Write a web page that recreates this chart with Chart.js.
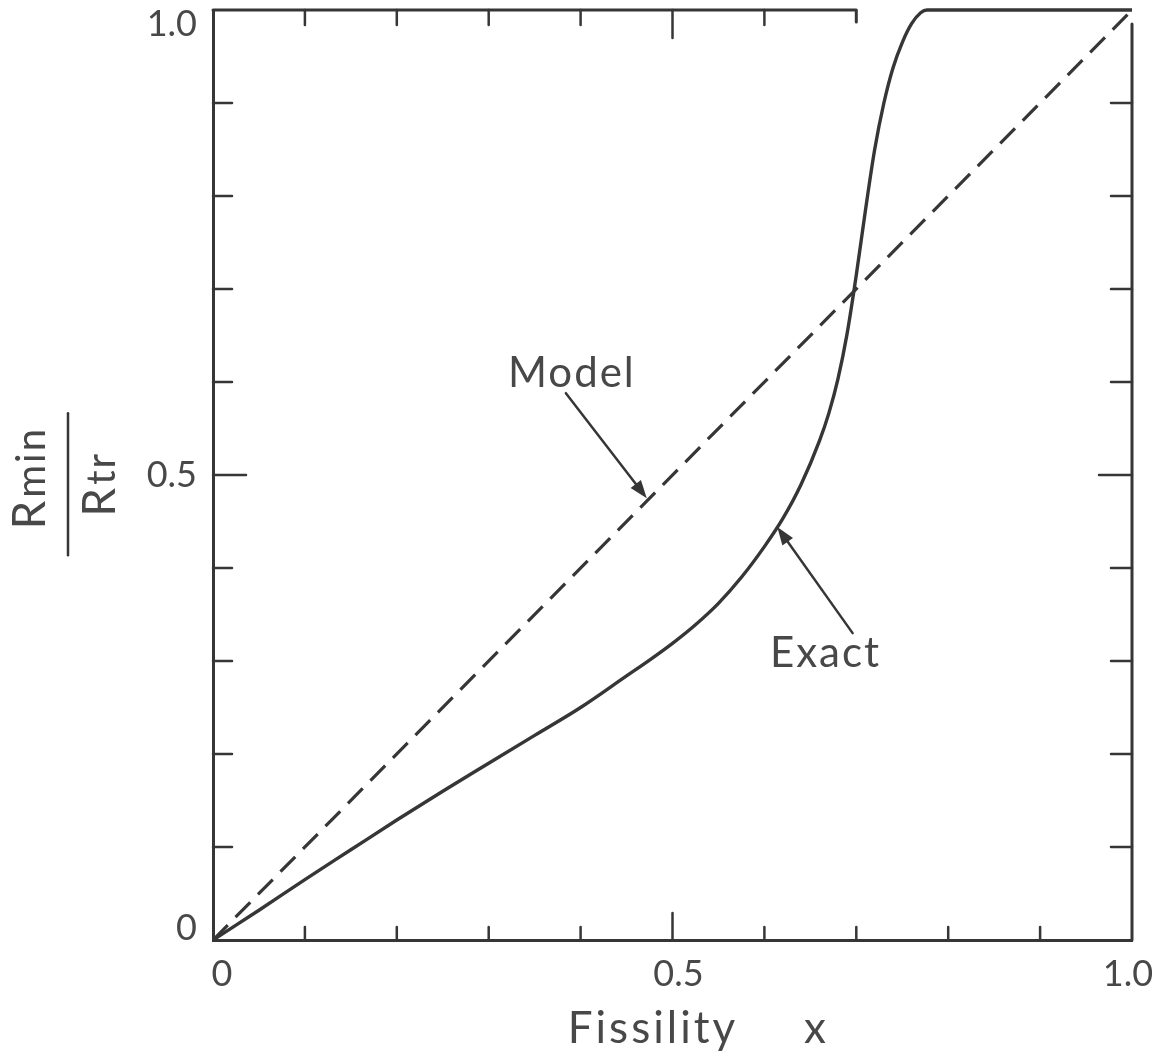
<!DOCTYPE html>
<html>
<head>
<meta charset="utf-8">
<script src="https://cdn.jsdelivr.net/npm/chart.js@4.4.1/dist/chart.umd.min.js"></script>
<style>
  html, body { margin: 0; padding: 0; background: #fff; }
  #wrap { width: 1159px; height: 1061px; }
</style>
</head>
<body>
<div id="wrap"><canvas id="fissilityChart" width="1159" height="1061"></canvas></div>
<script>
// --- DATA ---
const exactX = [0, 0.05, 0.1, 0.15, 0.2, 0.25, 0.3, 0.35, 0.4, 0.45, 0.475, 0.5, 0.525, 0.55, 0.575, 0.6, 0.62, 0.64, 0.66, 0.67, 0.68, 0.69, 0.7, 0.71, 0.72, 0.73, 0.74, 0.75, 0.76, 0.77, 0.777, 1.0];
const exactY = [0, 0.032, 0.065, 0.097, 0.129, 0.16, 0.19, 0.22, 0.25, 0.284, 0.301, 0.319, 0.339, 0.362, 0.39, 0.423, 0.453, 0.49, 0.537, 0.566, 0.603, 0.652, 0.715, 0.785, 0.85, 0.9, 0.938, 0.965, 0.985, 0.997, 1.0, 1.0];
const modelX = [0, 1];
const modelY = [0, 1];

const xTickValues = [0, 0.1, 0.2, 0.3, 0.4, 0.5, 0.6, 0.7, 0.8, 0.9, 1.0];
const yTickValues = [0, 0.1, 0.2, 0.3, 0.4, 0.5, 0.6, 0.7, 0.8, 0.9, 1.0];
const xLabelValues = [0, 0.5, 1.0];
const xLabelText = ['0', '0.5', '1.0'];
const yLabelValues = [0, 0.5, 1.0];
const yLabelText = ['0', '0.5', '1.0'];

// --- LOOK ---
const INK = '#363636';
const TEXT = '#484848';
const FONT = 'Lato, "Open Sans", "DejaVu Sans", sans-serif';
const TOP_FRAME_END = 0.7;     // top border stops here (hooked end)
const RIGHT_FRAME_TOP = 0.985; // right border starts just under the corner

// labels + arrows, in data units
const notes = [
    { text: 'Model', x: 0.321, y: 0.595, from: [0.384, 0.588], to: [0.472, 0.475] },
    { text: 'Exact', x: 0.606, y: 0.2935, from: [0.696, 0.330], to: [0.614, 0.444] }
];

const toPoints = (xs, ys) => xs.map((v, i) => ({ x: v, y: ys[i] }));

function arrow(ctx, x0, y0, x1, y1) {
    const ang = Math.atan2(y1 - y0, x1 - x0);
    const len = 18, half = 6.5;
    ctx.beginPath();
    ctx.moveTo(x0, y0);
    ctx.lineTo(x1 - Math.cos(ang) * len * 0.8, y1 - Math.sin(ang) * len * 0.8);
    ctx.stroke();
    ctx.beginPath();
    ctx.moveTo(x1, y1);
    ctx.lineTo(x1 - Math.cos(ang) * len - Math.sin(ang) * half, y1 - Math.sin(ang) * len + Math.cos(ang) * half);
    ctx.lineTo(x1 - Math.cos(ang) * len + Math.sin(ang) * half, y1 - Math.sin(ang) * len - Math.cos(ang) * half);
    ctx.closePath();
    ctx.fill();
}

// R with a smaller trailing "sub" on the same baseline
function rSub(ctx, sub, u, v) {
    ctx.font = '46px ' + FONT;
    ctx.fillText('R', u, v);
    const w = ctx.measureText('R').width + 1;
    ctx.font = '40px ' + FONT;
    ctx.fillText(sub, u + w, v);
}
function rSubWidth(ctx, sub) {
    ctx.font = '46px ' + FONT;
    const w = ctx.measureText('R').width + 1;
    ctx.font = '40px ' + FONT;
    return w + ctx.measureText(sub).width;
}

const framePlugin = {
    id: 'frameTicks',
    afterDraw(chart) {
        const { ctx, chartArea: a, scales: { x, y } } = chart;
        ctx.save();
        ctx.strokeStyle = INK;
        ctx.fillStyle = INK;
        ctx.lineWidth = 3;
        ctx.lineCap = 'round';
        ctx.lineJoin = 'round';

        // top border (partial) and right border
        const topEnd = x.getPixelForValue(TOP_FRAME_END);
        ctx.beginPath();
        ctx.moveTo(a.left, a.top);
        ctx.lineTo(topEnd, a.top);
        ctx.lineTo(topEnd, a.top + 12);
        ctx.stroke();
        ctx.beginPath();
        ctx.moveTo(a.right, y.getPixelForValue(RIGHT_FRAME_TOP));
        ctx.lineTo(a.right, a.bottom);
        ctx.stroke();

        // inward ticks
        ctx.lineWidth = 2.5;
        xTickValues.forEach(v => {
            if (v <= 0 || v >= 1) return;
            const px = x.getPixelForValue(v);
            const lb = v === 0.5 ? 27 : 13;
            ctx.beginPath(); ctx.moveTo(px, a.bottom); ctx.lineTo(px, a.bottom - lb); ctx.stroke();
            if (v < TOP_FRAME_END) {
                const lt = v === 0.5 ? 28 : 15;
                ctx.beginPath(); ctx.moveTo(px, a.top); ctx.lineTo(px, a.top + lt); ctx.stroke();
            }
        });
        yTickValues.forEach(v => {
            if (v <= 0 || v >= 1) return;
            const py = y.getPixelForValue(v);
            const ll = v === 0.5 ? 33 : 19;
            const lr = v === 0.5 ? 33 : 21;
            ctx.beginPath(); ctx.moveTo(a.left, py); ctx.lineTo(a.left + ll, py); ctx.stroke();
            ctx.beginPath(); ctx.moveTo(a.right, py); ctx.lineTo(a.right - lr, py); ctx.stroke();
        });

        // tick labels
        ctx.fillStyle = TEXT;
        ctx.font = '36px ' + FONT;
        ctx.textAlign = 'center';
        ctx.textBaseline = 'alphabetic';
        xLabelValues.forEach((v, i) => {
            const px = Math.min(Math.max(x.getPixelForValue(v) + 6, a.left + 9), a.right - 4);
            ctx.fillText(xLabelText[i], px, a.bottom + 46);
        });
        ctx.textAlign = 'right';
        ctx.textBaseline = 'middle';
        yLabelValues.forEach((v, i) => {
            const py = Math.min(Math.max(y.getPixelForValue(v), a.top + 14), a.bottom - 12);
            ctx.fillText(yLabelText[i], a.left - 16, py);
        });

        // axis title
        ctx.textAlign = 'left';
        ctx.textBaseline = 'alphabetic';
        ctx.font = '44px ' + FONT;
        ctx.letterSpacing = '3px';
        ctx.fillText('Fissility', x.getPixelForValue(0.386), a.bottom + 103);
        ctx.fillText('x', x.getPixelForValue(0.643), a.bottom + 103);

        // rotated fraction R_min / R_tr
        ctx.save();
        ctx.translate(68, y.getPixelForValue(0.49));
        ctx.rotate(-Math.PI / 2);
        ctx.strokeStyle = INK;
        ctx.lineWidth = 2.5;
        ctx.beginPath(); ctx.moveTo(-71, 0); ctx.lineTo(71, 0); ctx.stroke();
        ctx.fillStyle = TEXT;
        ctx.letterSpacing = '2px';
        const nw = rSubWidth(ctx, 'min');
        const dw = rSubWidth(ctx, 'tr');
        rSub(ctx, 'min', -nw / 2 + 6, -23);
        rSub(ctx, 'tr', -dw / 2, 47);
        ctx.restore();

        // annotations
        ctx.font = '42px ' + FONT;
        ctx.textAlign = 'left';
        ctx.strokeStyle = INK;
        ctx.lineWidth = 2.5;
        notes.forEach(n => {
            ctx.fillStyle = TEXT;
            ctx.letterSpacing = '2px';
            ctx.fillText(n.text, x.getPixelForValue(n.x), y.getPixelForValue(n.y));
            ctx.letterSpacing = '0px';
            ctx.fillStyle = INK;
            arrow(ctx,
                x.getPixelForValue(n.from[0]), y.getPixelForValue(n.from[1]),
                x.getPixelForValue(n.to[0]), y.getPixelForValue(n.to[1]));
        });
        ctx.restore();
    }
};

function makeChart() {
    new Chart(document.getElementById('fissilityChart'), {
        type: 'scatter',
        data: {
            datasets: [
                { label: 'Exact', data: toPoints(exactX, exactY), showLine: true, borderColor: INK, borderWidth: 3.4, pointRadius: 0, cubicInterpolationMode: 'monotone', clip: false },
                { label: 'Model', data: toPoints(modelX, modelY), showLine: true, borderColor: INK, borderWidth: 3.2, borderDash: [21, 11], pointRadius: 0, clip: false }
            ]
        },
        options: {
            responsive: false, animation: false, devicePixelRatio: 1,
            layout: { padding: { top: 10, right: 27, left: 0, bottom: 0 } },
            plugins: { legend: { display: false }, tooltip: { enabled: false } },
            scales: {
                x: {
                    type: 'linear', min: 0, max: 1,
                    grid: { display: false, drawOnChartArea: false, drawTicks: false },
                    border: { display: true, color: INK, width: 3 },
                    ticks: { display: false },
                    afterFit: s => { s.height = 121; }
                },
                y: {
                    type: 'linear', min: 0, max: 1,
                    grid: { display: false, drawOnChartArea: false, drawTicks: false },
                    border: { display: true, color: INK, width: 3 },
                    ticks: { display: false },
                    afterFit: s => { s.width = 213; }
                }
            }
        },
        plugins: [framePlugin]
    });
}

document.fonts.load('40px Lato').catch(() => {}).then(makeChart);
</script>
</body>
</html>
